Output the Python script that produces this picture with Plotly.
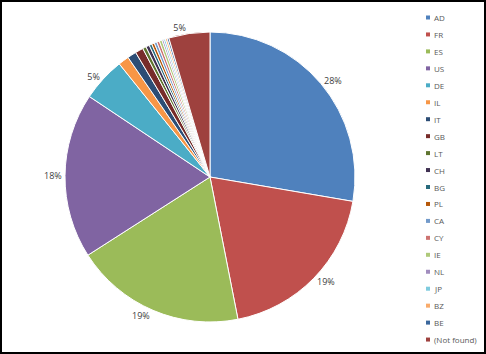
import plotly.graph_objects as go

labels = ["AD", "FR", "ES", "US", "DE", "IL", "IT", "GB", "LT", "CH", "BG", "PL",
          "CA", "CY", "IE", "NL", "JP", "BZ", "BE", "(Not found)"]
values = [27.8, 19.3, 19.1, 18.5, 4.9, 1.2, 1.0, 0.9, 0.4, 0.4, 0.3, 0.3,
          0.3, 0.3, 0.3, 0.2, 0.2, 0.2, 0.2, 4.6]
colors = ["#4F81BD", "#C0504D", "#9BBB59", "#8064A2", "#4BACC6", "#F79646",
          "#2C4D75", "#772C2A", "#5F7530", "#403152", "#276A7C", "#B65708",
          "#729ACA", "#CD7371", "#AFC97A", "#A18DBE", "#7ECBDE", "#F9AB6B",
          "#3A679C", "#9E413E"]

W, H = 486, 354
total = sum(values)
text = [f"{round(v / total * 100)}%" if v / total >= 0.04 else "" for v in values]

fig = go.Figure(go.Pie(
    labels=labels, values=values, text=text, textinfo="text",
    textposition="outside", sort=False, direction="clockwise", rotation=0,
    marker=dict(colors=colors, line=dict(color="white", width=1)),
    textfont=dict(family="Open Sans", size=9, color="#404040"),
    outsidetextfont=dict(family="Open Sans", size=9, color="#404040"),
    domain=dict(x=[65 / W, 355 / W], y=[(H - 322) / H, (H - 32) / H]),
    showlegend=False,
    hoverinfo="label+percent",
))

# custom legend (Excel-style compact spacing)
shapes = [dict(type="rect", xref="paper", yref="paper",
               x0=1 / W, x1=(W - 1) / W, y0=1 / H, y1=(H - 1) / H,
               line=dict(color="black", width=2))]
annotations = []
pitch = 16.95
for i, (lab, col) in enumerate(zip(labels, colors)):
    yc = 17.5 + i * pitch
    shapes.append(dict(type="rect", xref="paper", yref="paper",
                       x0=426 / W, x1=430 / W, y0=(H - yc - 2) / H, y1=(H - yc + 2) / H,
                       fillcolor=col, line=dict(width=0)))
    annotations.append(dict(xref="paper", yref="paper", x=432 / W, y=(H - yc) / H,
                            xanchor="left", yanchor="middle", text=lab, showarrow=False,
                            font=dict(family="Open Sans", size=8, color="#595959")))

fig.update_layout(
    width=W, height=H,
    margin=dict(l=0, r=0, t=0, b=0),
    paper_bgcolor="white", plot_bgcolor="white",
    shapes=shapes, annotations=annotations,
)

fig.write_html("out.html")
